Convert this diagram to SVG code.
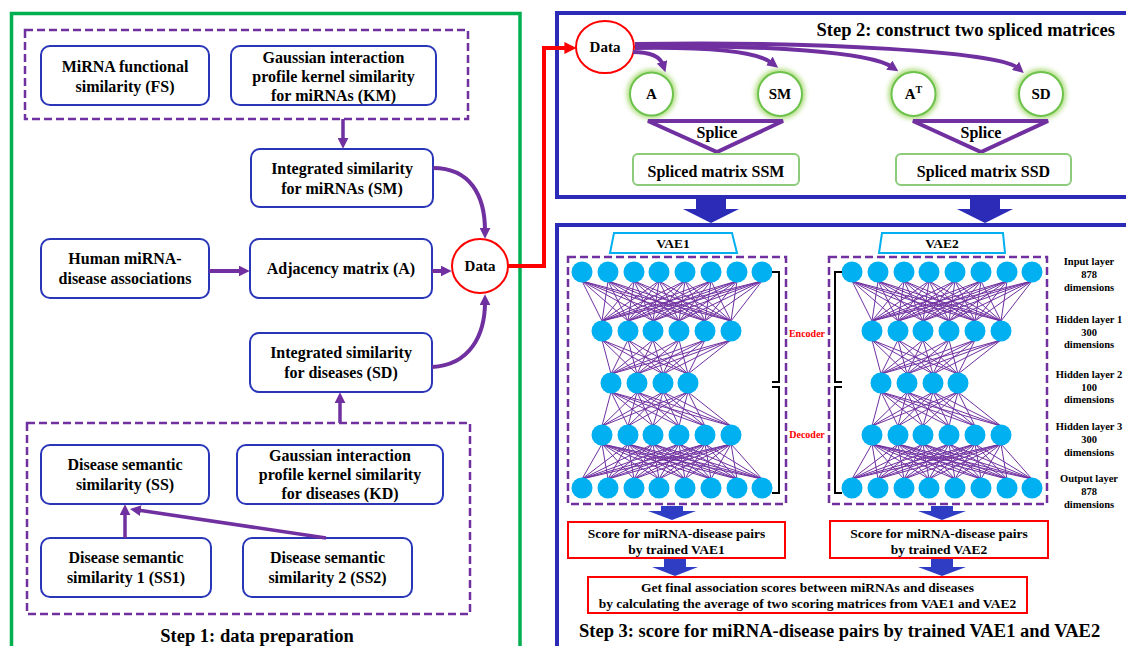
<svg xmlns="http://www.w3.org/2000/svg" xmlns:xlink="http://www.w3.org/1999/xlink" width="1126" height="646" viewBox="0 0 1126 646">
<style>
.t{font-family:"Liberation Serif","Times New Roman",serif;font-weight:bold;fill:#000;text-anchor:middle}
.f16{font-size:16px}
.f15{font-size:15px}
.f135{font-size:13.5px}
.f105{font-size:10.5px}
.ttl{font-size:18.5px}
.box{fill:#fff;stroke:#2A36B8;stroke-width:2}
.dash{fill:none;stroke:#7030A0;stroke-width:2.5;stroke-dasharray:8 4}
.arr{fill:none;stroke:#7030A0;stroke-width:4;marker-end:url(#ap)}
.arr3{fill:none;stroke:#7030A0;stroke-width:3.5;marker-end:url(#ap)}
.nl{fill:none;stroke:#7030A0;stroke-width:1}
.nc{fill:#00B0F0}
.gl{fill:none;stroke:#92D050;stroke-width:6;opacity:0.8}
.gc{fill:#fff;stroke:#6CC24A;stroke-width:2}
.sp{fill:#fff;stroke:#8BCB7A;stroke-width:2}
.red{fill:#fff;stroke:#FF0000;stroke-width:2}
.blk{fill:#2B2BB8}
.sblk{fill:#2F3DC4}
.vae{fill:#fff;stroke:#00B0F0;stroke-width:2}
.brk{fill:none;stroke:#000;stroke-width:2}
</style>
<defs>
<marker id="ap" viewBox="0 0 10 10" refX="3" refY="5" markerWidth="11" markerHeight="11" markerUnits="userSpaceOnUse" orient="auto"><path d="M0,0 L10,5 L0,10 z" fill="#7030A0"/></marker>
<marker id="ar" viewBox="0 0 10 10" refX="3" refY="5" markerWidth="12" markerHeight="12" markerUnits="userSpaceOnUse" orient="auto"><path d="M0,0 L10,5 L0,10 z" fill="#FF0000"/></marker>
<filter id="glow" x="-50%" y="-50%" width="200%" height="200%"><feGaussianBlur stdDeviation="2.5"/></filter>
<g id="net">
<path class="nl" d="M582 281 602 321M582 281 628 321M582 281 653 321M582 281 679 321M582 281 705 321M582 281 731 321M608 281 602 321M608 281 628 321M608 281 653 321M608 281 679 321M608 281 705 321M608 281 731 321M634 281 602 321M634 281 628 321M634 281 653 321M634 281 679 321M634 281 705 321M634 281 731 321M659 281 602 321M659 281 628 321M659 281 653 321M659 281 679 321M659 281 705 321M659 281 731 321M685 281 602 321M685 281 628 321M685 281 653 321M685 281 679 321M685 281 705 321M685 281 731 321M711 281 602 321M711 281 628 321M711 281 653 321M711 281 679 321M711 281 705 321M711 281 731 321M737 281 602 321M737 281 628 321M737 281 653 321M737 281 679 321M737 281 705 321M737 281 731 321M762 281 602 321M762 281 628 321M762 281 653 321M762 281 679 321M762 281 705 321M762 281 731 321"/>
<path class="nl" d="M602 340 611 374M602 340 637 374M602 340 663 374M602 340 688 374M628 340 611 374M628 340 637 374M628 340 663 374M628 340 688 374M653 340 611 374M653 340 637 374M653 340 663 374M653 340 688 374M679 340 611 374M679 340 637 374M679 340 663 374M679 340 688 374M705 340 611 374M705 340 637 374M705 340 663 374M705 340 688 374M731 340 611 374M731 340 637 374M731 340 663 374M731 340 688 374"/>
<path class="nl" d="M611 392 602 426M611 392 628 426M611 392 653 426M611 392 679 426M611 392 705 426M611 392 731 426M637 392 602 426M637 392 628 426M637 392 653 426M637 392 679 426M637 392 705 426M637 392 731 426M663 392 602 426M663 392 628 426M663 392 653 426M663 392 679 426M663 392 705 426M663 392 731 426M688 392 602 426M688 392 628 426M688 392 653 426M688 392 679 426M688 392 705 426M688 392 731 426"/>
<path class="nl" d="M602 444 582 479M602 444 608 479M602 444 634 479M602 444 659 479M602 444 685 479M602 444 711 479M602 444 737 479M602 444 762 479M628 444 582 479M628 444 608 479M628 444 634 479M628 444 659 479M628 444 685 479M628 444 711 479M628 444 737 479M628 444 762 479M653 444 582 479M653 444 608 479M653 444 634 479M653 444 659 479M653 444 685 479M653 444 711 479M653 444 737 479M653 444 762 479M679 444 582 479M679 444 608 479M679 444 634 479M679 444 659 479M679 444 685 479M679 444 711 479M679 444 737 479M679 444 762 479M705 444 582 479M705 444 608 479M705 444 634 479M705 444 659 479M705 444 685 479M705 444 711 479M705 444 737 479M705 444 762 479M731 444 582 479M731 444 608 479M731 444 634 479M731 444 659 479M731 444 685 479M731 444 711 479M731 444 737 479M731 444 762 479"/>
<g class="nc">
<circle cx="582" cy="272" r="10.5"/><circle cx="608" cy="272" r="10.5"/><circle cx="634" cy="272" r="10.5"/><circle cx="659" cy="272" r="10.5"/><circle cx="685" cy="272" r="10.5"/><circle cx="711" cy="272" r="10.5"/><circle cx="737" cy="272" r="10.5"/><circle cx="762" cy="272" r="10.5"/>
<circle cx="602" cy="331" r="10.5"/><circle cx="628" cy="331" r="10.5"/><circle cx="653" cy="331" r="10.5"/><circle cx="679" cy="331" r="10.5"/><circle cx="705" cy="331" r="10.5"/><circle cx="731" cy="331" r="10.5"/>
<circle cx="611" cy="383" r="10.5"/><circle cx="637" cy="383" r="10.5"/><circle cx="663" cy="383" r="10.5"/><circle cx="688" cy="383" r="10.5"/>
<circle cx="602" cy="435" r="10.5"/><circle cx="628" cy="435" r="10.5"/><circle cx="653" cy="435" r="10.5"/><circle cx="679" cy="435" r="10.5"/><circle cx="705" cy="435" r="10.5"/><circle cx="731" cy="435" r="10.5"/>
<circle cx="582" cy="488" r="10.5"/><circle cx="608" cy="488" r="10.5"/><circle cx="634" cy="488" r="10.5"/><circle cx="659" cy="488" r="10.5"/><circle cx="685" cy="488" r="10.5"/><circle cx="711" cy="488" r="10.5"/><circle cx="737" cy="488" r="10.5"/><circle cx="762" cy="488" r="10.5"/>
</g>
</g>
</defs>

<rect width="1126" height="646" fill="#fff"/>

<!-- panels -->
<g id="panels">
<rect x="11.5" y="13.5" width="508.5" height="645" fill="none" stroke="#00B050" stroke-width="3.5"/>
<rect x="557" y="13" width="575" height="184" fill="none" stroke="#2B2BB8" stroke-width="4"/>
<rect x="557" y="225" width="575" height="430" fill="none" stroke="#2B2BB8" stroke-width="4"/>
</g>

<!-- Step 1 -->
<g id="group-top"><rect class="dash" x="25" y="30" width="443" height="89"/></g>
<g id="group-bottom"><rect class="dash" x="27" y="423" width="443" height="191"/></g>

<g id="FS"><rect class="box" x="41" y="46" width="168" height="59" rx="9"/>
<text class="t f16" x="125" y="72">MiRNA functional</text><text class="t f16" x="125" y="92">similarity (FS)</text></g>
<g id="KM"><rect class="box" x="231" y="46" width="205" height="59" rx="9"/>
<text class="t f16" x="333.5" y="63">Gaussian interaction</text><text class="t f16" x="333.5" y="82">profile kernel similarity</text><text class="t f16" x="333.5" y="101">for miRNAs (KM)</text></g>
<g id="SM"><rect class="box" x="251" y="149" width="182" height="58" rx="9"/>
<text class="t f16" x="342" y="174">Integrated similarity</text><text class="t f16" x="342" y="194">for miRNAs (SM)</text></g>
<g id="Human"><rect class="box" x="41" y="239" width="168" height="59" rx="9"/>
<text class="t f16" x="125" y="264">Human miRNA-</text><text class="t f16" x="125" y="284">disease associations</text></g>
<g id="Adj"><rect class="box" x="250" y="239" width="182" height="59" rx="9"/>
<text class="t f16" x="341" y="274">Adjacency matrix (A)</text></g>
<g id="SDbox"><rect class="box" x="250" y="333" width="182" height="59" rx="9"/>
<text class="t f16" x="341" y="358">Integrated similarity</text><text class="t f16" x="341" y="378">for diseases (SD)</text></g>
<g id="SS"><rect class="box" x="41" y="445" width="168" height="59" rx="9"/>
<text class="t f16" x="125" y="470">Disease semantic</text><text class="t f16" x="125" y="490">similarity (SS)</text></g>
<g id="KD"><rect class="box" x="237" y="445" width="206" height="59" rx="9"/>
<text class="t f16" x="340" y="461">Gaussian interaction</text><text class="t f16" x="340" y="480">profile kernel similarity</text><text class="t f16" x="340" y="499">for diseases (KD)</text></g>
<g id="SS1"><rect class="box" x="41" y="538" width="170" height="59" rx="9"/>
<text class="t f16" x="126" y="563">Disease semantic</text><text class="t f16" x="126" y="583">similarity 1 (SS1)</text></g>
<g id="SS2"><rect class="box" x="243" y="538" width="169" height="59" rx="9"/>
<text class="t f16" x="327.5" y="563">Disease semantic</text><text class="t f16" x="327.5" y="583">similarity 2 (SS2)</text></g>
<g id="Data1"><ellipse class="red" cx="480" cy="266" rx="28" ry="27"/><text class="t f15" x="480" y="271">Data</text></g>
<text class="t ttl" x="257" y="642">Step 1: data preparation</text>

<!-- Step 2 -->
<text class="t ttl" x="1115" y="36" style="text-anchor:end">Step 2: construct two spliced matrices</text>
<g id="Data2"><ellipse class="red" cx="605" cy="47" rx="29" ry="26"/><text class="t f15" x="605" y="52">Data</text></g>
<g id="nA"><circle class="gl" cx="651.5" cy="94" r="21.5" filter="url(#glow)"/><circle class="gc" cx="651.5" cy="94" r="21.5"/><text class="t f15" x="651.5" y="99">A</text></g>
<g id="nSM"><circle class="gl" cx="780" cy="94" r="22" filter="url(#glow)"/><circle class="gc" cx="780" cy="94" r="22"/><text class="t f15" x="780" y="99">SM</text></g>
<g id="nAT"><circle class="gl" cx="913.5" cy="94" r="22" filter="url(#glow)"/><circle class="gc" cx="913.5" cy="94" r="22"/><text class="t f15" x="913.5" y="99">A<tspan font-size="10" dy="-6">T</tspan></text></g>
<g id="nSD"><circle class="gl" cx="1041" cy="94" r="22" filter="url(#glow)"/><circle class="gc" cx="1041" cy="94" r="22"/><text class="t f15" x="1041" y="99">SD</text></g>
<g id="splice1"><path d="M648 121 L783 121 L717 152 Z" fill="#fff" stroke="#7030A0" stroke-width="4"/><text class="t f16" x="717" y="138">Splice</text></g>
<g id="splice2"><path d="M913 121 L1048 121 L981 152 Z" fill="#fff" stroke="#7030A0" stroke-width="4"/><text class="t f16" x="981" y="138">Splice</text></g>
<g id="SSM"><rect class="sp" x="633" y="154" width="166" height="31" rx="5"/><text class="t f16" x="716" y="177">Spliced matrix SSM</text></g>
<g id="SSD"><rect class="sp" x="896" y="154" width="175" height="31" rx="5"/><text class="t f16" x="983.5" y="177">Spliced matrix SSD</text></g>

<!-- Step 3 -->
<g id="VAE1"><path class="vae" d="M614 233 L732 233 L737 253 L610 253 Z"/><text class="t f135" x="673" y="248">VAE1</text></g>
<g id="VAE2"><path class="vae" d="M882 233 L1003 233 L1005 253 L879 253 Z"/><text class="t f135" x="942" y="248">VAE2</text></g>
<g id="vae1-box"><rect class="dash" x="568" y="257" width="218" height="247"/></g>
<g id="vae2-box"><rect class="dash" x="829" y="257" width="218" height="247"/></g>
<g id="vae1-net"><use xlink:href="#net" href="#net"/></g>
<g id="vae2-net"><use xlink:href="#net" href="#net" transform="translate(270,0)"/></g>
<g id="brackets">
<path class="brk" d="M772 272 H779 V382 H772"/>
<path class="brk" d="M772 387 H779 V493 H772"/>
<path class="brk" d="M842 272 H835 V382 H842"/>
<path class="brk" d="M842 387 H835 V493 H842"/>
</g>
<text class="t" x="807" y="337" font-size="10" style="fill:#FF0000">Encoder</text>
<text class="t" x="807" y="438" font-size="10" style="fill:#FF0000">Decoder</text>
<g id="layer-labels" class="t f105">
<text x="1089" y="265">Input layer</text><text x="1089" y="278">878</text><text x="1089" y="291">dimensions</text>
<text x="1089" y="323">Hidden layer 1</text><text x="1089" y="335.5">300</text><text x="1089" y="348">dimensions</text>
<text x="1089" y="378">Hidden layer 2</text><text x="1089" y="390.5">100</text><text x="1089" y="403">dimensions</text>
<text x="1089" y="430">Hidden layer 3</text><text x="1089" y="443">300</text><text x="1089" y="456">dimensions</text>
<text x="1089" y="482">Output layer</text><text x="1089" y="494.5">878</text><text x="1089" y="508">dimensions</text>
</g>
<g id="score1"><rect x="568" y="522" width="217" height="36" fill="#fff" stroke="#FF0000" stroke-width="2"/>
<text class="t f135" x="676.5" y="538">Score for miRNA-disease pairs</text><text class="t f135" x="676.5" y="554">by trained VAE1</text></g>
<g id="score2"><rect x="830" y="521" width="218" height="37" fill="#fff" stroke="#FF0000" stroke-width="2"/>
<text class="t f135" x="939" y="538">Score for miRNA-disease pairs</text><text class="t f135" x="939" y="554">by trained VAE2</text></g>
<g id="final"><rect x="588" y="577" width="439" height="36" fill="#fff" stroke="#FF0000" stroke-width="2"/>
<text class="t f135" x="807.5" y="592">Get final association scores between miRNAs and diseases</text>
<text class="t f135" x="807.5" y="608">by calculating the average of two scoring matrices from VAE1 and VAE2</text></g>
<text class="t ttl" x="579" y="637" style="text-anchor:start">Step 3: score for miRNA-disease pairs by trained VAE1 and VAE2</text>

<!-- connectors -->
<g id="connectors">
<path class="arr3" d="M343 119 L343 141"/>
<path class="arr3" d="M340 423 L340 400"/>
<path class="arr" d="M433 168 C470 168 485 195 485 231"/>
<path class="arr" d="M432 367 C470 365 485 335 485 302"/>
<path class="arr" d="M209 271 L242 271"/>
<path class="arr" d="M432 271 L444 271"/>
<path class="arr3" d="M125 538 L125 512"/>
<path class="arr3" d="M326 538 L137.6 510.1"/>
<path d="M508 266 H544 V48 H568" fill="none" stroke="#FF0000" stroke-width="4" marker-end="url(#ar)"/>
<path class="arr" d="M633 52 C650 52 660 56 663 65"/>
<path class="arr" d="M635 48 C700 47 755 50 772 63"/>
<path class="arr" d="M635 46 C770 45 870 52 892 67"/>
<path class="arr" d="M635 44 C820 41 1000 52 1018 68"/>
<polygon class="blk" points="696,197 726,197 726,209 739,209 711,223 683,209 696,209"/>
<polygon class="blk" points="970,197 1000,197 1000,209 1013,209 985,223 957,209 970,209"/>
<polygon class="sblk" points="661,506 683,506 683,511 696,511 672,520 648,511 661,511"/>
<polygon class="sblk" points="931,506 953,506 953,511 966,511 942,520 918,511 931,511"/>
<polygon class="sblk" points="664,559 686,559 686,567 698,567 675,576 652,567 664,567"/>
<polygon class="sblk" points="931,559 953,559 953,567 966,567 942,576 918,567 931,567"/>
</g>
</svg>
